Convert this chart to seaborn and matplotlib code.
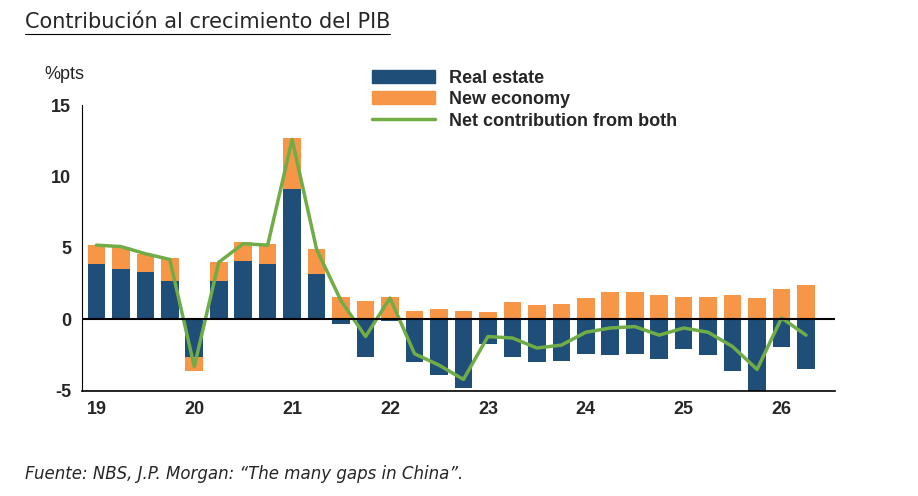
import numpy as np
import pandas as pd
import matplotlib
matplotlib.use("Agg")
import matplotlib.pyplot as plt
import seaborn as sns
from matplotlib.patches import Patch
from matplotlib.lines import Line2D

# Quarterly data, 2019Q1 .. 2026Q2
quarters = [f"{y}Q{q}" for y in range(19, 27) for q in range(1, 5)][:30]
real_estate = [3.9, 3.5, 3.3, 2.7, -2.6, 2.7, 4.1, 3.9, 9.1, 3.2,
               -0.3, -2.6, -0.1, -3.0, -3.9, -4.8, -1.7, -2.6, -3.0, -2.9,
               -2.4, -2.5, -2.4, -2.8, -2.1, -2.5, -3.6, -5.1, -1.9, -3.5]
new_economy = [1.3, 1.6, 1.3, 1.6, -1.0, 1.3, 1.3, 1.4, 3.6, 1.7,
               1.6, 1.3, 1.6, 0.6, 0.7, 0.6, 0.5, 1.2, 1.0, 1.1,
               1.5, 1.9, 1.9, 1.7, 1.6, 1.6, 1.7, 1.5, 2.1, 2.4]
net_both = [5.2, 5.1, 4.6, 4.2, -3.3, 4.0, 5.3, 5.2, 12.6, 4.9,
            1.3, -1.2, 1.5, -2.4, -3.2, -4.2, -1.2, -1.3, -2.0, -1.8,
            -0.9, -0.6, -0.5, -1.1, -0.6, -0.9, -1.9, -3.5, 0.1, -1.1]
year_labels = ["19", "20", "21", "22", "23", "24", "25", "26"]

df = pd.DataFrame({"q": quarters, "re": real_estate, "ne": new_economy, "net": net_both})
df["ne_bottom"] = np.where(np.sign(df["re"]) == np.sign(df["ne"]), df["re"], 0)

navy = "#1F4E79"
orange = "#F79646"
green = "#70AD47"

sns.set_style("white")
plt.rcParams["font.family"] = ["Liberation Sans", "DejaVu Sans"]

fig = plt.figure(figsize=(9.18, 4.96), dpi=100)
ax = fig.add_axes([0.089, 0.212, 0.821, 0.576])

sns.barplot(data=df, x="q", y="re", color=navy, width=0.72, saturation=1,
            linewidth=0, ax=ax)
sns.barplot(data=df, x="q", y="ne", color=orange, width=0.72, saturation=1,
            linewidth=0, bottom=df["ne_bottom"], ax=ax)
sns.lineplot(x=np.arange(len(df)), y=df["net"], color=green, linewidth=2.5, ax=ax)

ax.axhline(0, color="black", linewidth=1.5, zorder=5)
ax.set_ylim(-5, 15)
ax.set_xlim(-0.6, 30.2)
ax.set_yticks([-5, 0, 5, 10, 15])
ax.set_yticklabels(["-5", "0", "5", "10", "15"], fontsize=13, fontweight="bold")
ax.set_xticks(np.arange(0, 30, 4))
ax.set_xticklabels(year_labels, fontsize=13, fontweight="bold")
ax.set_xlabel("")
ax.set_ylabel("")
ax.tick_params(axis="both", length=4, direction="out", width=1)
for s in ["top", "right"]:
    ax.spines[s].set_visible(False)
ax.spines["left"].set_color("black")
ax.spines["bottom"].set_color("black")
ax.spines["bottom"].set_linewidth(1.2)

ax.text(-0.05, 1.09, "%pts", transform=ax.transAxes, fontsize=13, ha="left")

handles = [Patch(color=navy), Patch(color=orange), Line2D([], [], color=green, lw=2.5)]
ax.legend(handles, ["Real estate", "New economy", "Net contribution from both"],
          loc="upper left", bbox_to_anchor=(0.375, 1.15), frameon=False,
          prop={"weight": "bold", "size": 13}, handlelength=3.5,
          labelspacing=0.25, borderaxespad=0)

fig.text(0.027, 0.955, "Contribución al crecimiento del PIB", fontsize=15,
         ha="left", va="center", family="DejaVu Sans")
fig.lines.append(Line2D([0.027, 0.425], [0.932, 0.932], transform=fig.transFigure,
                        color="black", lw=0.8))
fig.text(0.027, 0.045, "Fuente: NBS, J.P. Morgan: “The many gaps in China”.",
         fontsize=12, style="italic", ha="left", va="center", family="DejaVu Sans")

fig.savefig("out.png", dpi=100)
